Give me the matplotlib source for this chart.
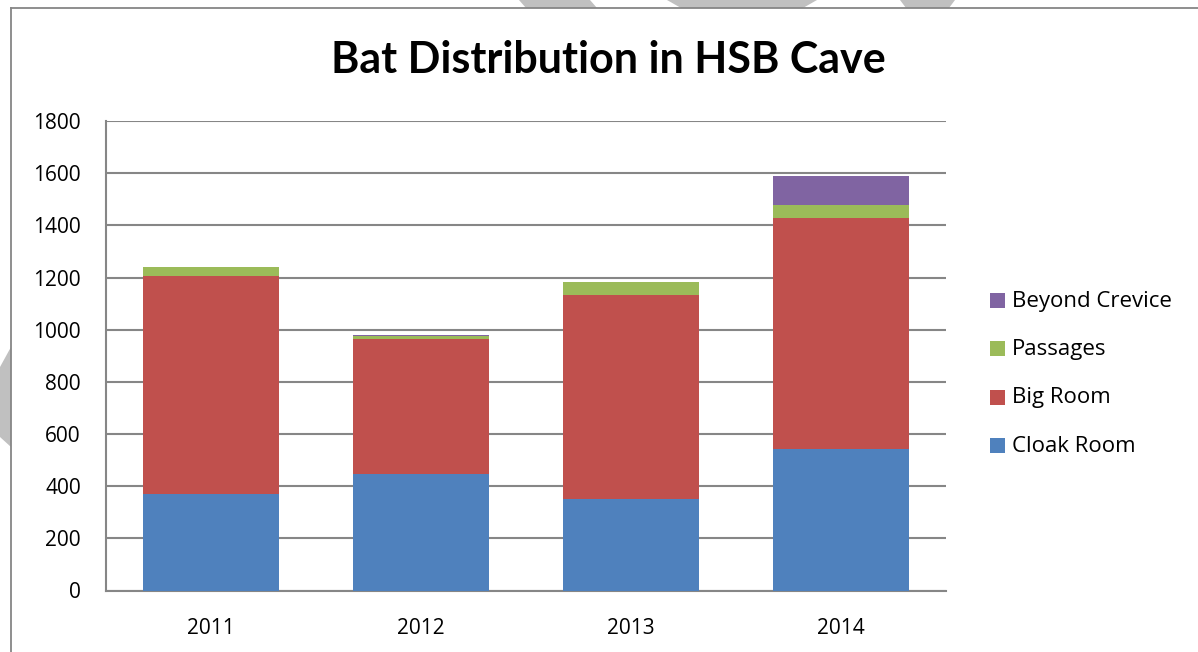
import matplotlib
matplotlib.use("Agg")
import matplotlib.pyplot as plt
from matplotlib.patches import Rectangle, Polygon
import numpy as np

# ---- data -------------------------------------------------------------
years = ["2011", "2012", "2013", "2014"]
series_names = ["Cloak Room", "Big Room", "Passages", "Beyond Crevice"]
cloak_room = [370, 445, 349, 541]
big_room = [835, 519, 784, 886]
passages = [35, 12, 48, 52]
beyond_crevice = [0, 5, 0, 112]
series_colors = ["#4F81BD", "#C0504D", "#9BBB59", "#8064A2"]
y_ticks = [0, 200, 400, 600, 800, 1000, 1200, 1400, 1600, 1800]
title = "Bat Distribution in HSB Cave"

W, H = 1198, 652
fig = plt.figure(figsize=(W / 100, H / 100), dpi=100)
fig.patch.set_facecolor("white")

# light grey page stripes in the margins
stripe_col = "#C0C0C0"
for pts in [
    [(519, 0), (590, 0), (597, 8), (526, 8)],
    [(667, 0), (817, 0), (803, 8), (681, 8)],
    [(900, 0), (955, 0), (949, 8), (906, 8)],
    [(0, 367), (11, 347), (11, 447), (0, 437)],
]:
    fig.patches.append(Polygon([(x / W, 1 - y / H) for x, y in pts],
                               closed=True, transform=fig.transFigure,
                               facecolor=stripe_col, edgecolor="none", zorder=0))

# chart frame (top and left edges visible)
frame_col = "#868686"
fig.add_artist(plt.Line2D([11 / W, 1.0], [1 - 8 / H, 1 - 8 / H],
                          transform=fig.transFigure, color=frame_col, lw=1.3))
fig.add_artist(plt.Line2D([11 / W, 11 / W], [0.0, 1 - 8 / H],
                          transform=fig.transFigure, color=frame_col, lw=1.3))

# plot area
left, right, top, bottom = 106, 946, 121, 590.5
ax = fig.add_axes([left / W, 1 - bottom / H, (right - left) / W, (bottom - top) / H])

x = np.arange(len(years))
bar_w = 0.643
stack = [cloak_room, big_room, passages, beyond_crevice]
base = np.zeros(len(years))
for vals, col in zip(stack, series_colors):
    vals = np.asarray(vals, dtype=float)
    ax.bar(x, vals, bar_w, bottom=base, color=col, edgecolor="none", zorder=3)
    base += vals

ax.set_xlim(-0.5, 3.5)
ax.set_ylim(0, 1800)
ax.set_yticks(y_ticks)
ax.set_yticklabels([str(v) for v in y_ticks])
ax.set_xticks(x)
ax.set_xticklabels(years)

for lab in ax.get_yticklabels() + ax.get_xticklabels():
    lab.set_fontfamily("Open Sans")
    lab.set_fontsize(15)
    lab.set_color("black")
ax.tick_params(axis="y", length=0, pad=18)
ax.tick_params(axis="x", length=0, pad=20)

ax.grid(axis="y", color=frame_col, lw=1.5, zorder=0)
ax.set_axisbelow(True)
for s in ["top", "right"]:
    ax.spines[s].set_visible(False)
ax.spines["left"].set_color(frame_col)
ax.spines["left"].set_linewidth(1.5)
ax.spines["bottom"].set_color(frame_col)
ax.spines["bottom"].set_linewidth(1.5)

# title
fig.text(608 / W, 1 - 60 / H, title, ha="center", va="center",
         fontfamily="Lato", fontweight="bold", fontsize=31, color="black")

# legend (top entry is the last series)
leg_y = [301, 349, 398, 446]
for yy, name, col in zip(leg_y, series_names[::-1], series_colors[::-1]):
    fig.patches.append(Rectangle((990 / W, 1 - (yy + 7) / H), 15 / W, 15 / H,
                                 transform=fig.transFigure, facecolor=col,
                                 edgecolor="none"))
    fig.text(1012 / W, 1 - yy / H, name, ha="left", va="center",
             fontfamily="Open Sans", fontsize=16, color="black")

fig.savefig("out.png", dpi=100)
